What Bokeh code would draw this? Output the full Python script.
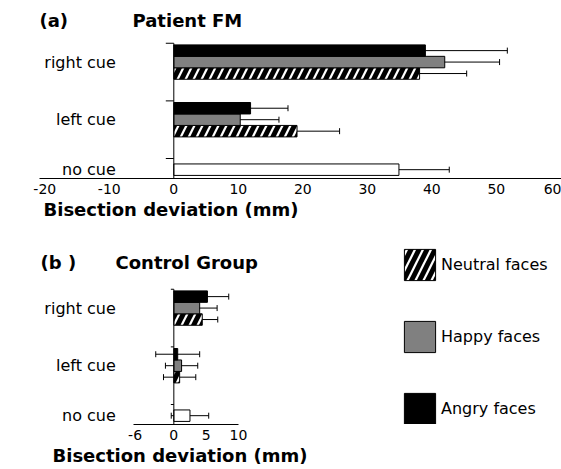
from bokeh.plotting import figure
from bokeh.models import (ColumnDataSource, Whisker, TeeHead, Label, Title,
                          FixedTicker, Range1d, Legend, LegendItem)
from bokeh.layouts import column
from bokeh.embed import file_html
from bokeh.resources import INLINE
from bokeh.core.properties import value

# ---------------- data ----------------
cue_conditions = ["right cue", "left cue"]
baseline_condition = "no cue"
series_names = ["Neutral faces", "Happy faces", "Angry faces"]

# Patient FM (mm), values for [right cue, left cue]
fm_neutral = [38.1, 19.1]
fm_neutral_err = [7.3, 6.6]
fm_happy = [42.0, 10.3]
fm_happy_err = [8.5, 6.0]
fm_angry = [39.0, 11.9]
fm_angry_err = [12.7, 5.8]
fm_nocue = [34.9]
fm_nocue_err = [7.8]

# Control group (mm), values for [right cue, left cue]
ctrl_neutral = [4.4, 0.9]
ctrl_neutral_err = [2.4, 2.5]
ctrl_happy = [4.0, 1.2]
ctrl_happy_err = [2.7, 2.5]
ctrl_angry = [5.2, 0.6]
ctrl_angry_err = [3.3, 3.4]
ctrl_nocue = [2.5]
ctrl_nocue_err = [2.9]

fm_ticks = [-20, -10, 0, 10, 20, 30, 40, 50, 60]
ctrl_ticks = [-6, 0, 5, 10]
x_label = "Bisection deviation (mm)"

# ---------------- layout / style ----------------
FONT = "DejaVu Sans"
W = 561
LEFT = 39
PX_PER_ROW = 58.8
ROW_Y = {"right cue": 1.98, "left cue": 1.0, "no cue": 0.15}
BAR_H = 0.195
SHIFT = {"Neutral faces": -0.195, "Happy faces": 0.0, "Angry faces": 0.195}
BOUNDARIES = [0.34, 1.32, 2.30]
STYLE = {
    "Neutral faces": dict(fill_color="white", hatch_pattern="/", hatch_color="black",
                          hatch_weight=5, hatch_scale=16),
    "Happy faces": dict(fill_color="#808080"),
    "Angry faces": dict(fill_color="black"),
}


def panel(height, bottom, x_range, ticks, tick_align, values, errs, nocue, nocue_err,
          tag, tag_x, title, title_x, title_y, label_offset, tick_len, bounds, legend):
    frame_h = height - bottom
    p = figure(width=W, height=height, x_range=Range1d(*x_range),
               y_range=Range1d(0, frame_h / PX_PER_ROW),
               output_backend="svg", toolbar_location=None, y_axis_location=None,
               min_border_left=LEFT, min_border_right=0, min_border_top=0,
               min_border_bottom=bottom)
    p.xgrid.grid_line_color = None
    p.ygrid.grid_line_color = None
    p.outline_line_color = None
    x_per_px = (x_range[1] - x_range[0]) / (W - LEFT)

    ax = p.xaxis[0]
    ax.ticker = FixedTicker(ticks=ticks)
    ax.major_label_overrides = {t: str(t) for t in ticks}
    ax.major_tick_line_color = None
    ax.minor_tick_line_color = None
    ax.major_tick_out = 0
    ax.major_tick_in = 0
    ax.axis_line_color = "black"
    ax.axis_line_width = 1
    ax.major_label_text_font = FONT
    ax.major_label_text_font_size = "14px"
    ax.major_label_text_color = "black"
    ax.major_label_text_align = tick_align
    ax.major_label_standoff = 5
    if bounds is not None:
        ax.bounds = bounds

    renderers = {}
    for name, vals, es in zip(series_names, values, errs):
        ys = [ROW_Y[c] + SHIFT[name] for c in cue_conditions]
        src = ColumnDataSource(dict(y=ys, right=vals,
                                    lo=[v - e for v, e in zip(vals, es)],
                                    hi=[v + e for v, e in zip(vals, es)]))
        r = p.hbar(y="y", left=0, right="right", height=BAR_H, source=src,
                   line_color="black", line_width=1, **STYLE[name])
        renderers[name] = r
        p.add_layout(Whisker(source=src, base="y", lower="lo", upper="hi", dimension="width",
                             line_color="black", line_width=1,
                             upper_head=TeeHead(size=6, line_color="black", line_width=1),
                             lower_head=TeeHead(size=6, line_color="black", line_width=1)))

    nsrc = ColumnDataSource(dict(y=[ROW_Y[baseline_condition]] * len(nocue), right=nocue,
                                 lo=[v - e for v, e in zip(nocue, nocue_err)],
                                 hi=[v + e for v, e in zip(nocue, nocue_err)]))
    p.hbar(y="y", left=0, right="right", height=BAR_H, source=nsrc,
           fill_color="white", line_color="black", line_width=1)
    p.add_layout(Whisker(source=nsrc, base="y", lower="lo", upper="hi", dimension="width",
                         line_color="black", line_width=1,
                         upper_head=TeeHead(size=6, line_color="black", line_width=1),
                         lower_head=TeeHead(size=6, line_color="black", line_width=1)))

    # category axis drawn at x = 0
    p.segment(x0=[0], y0=[0], x1=[0], y1=[BOUNDARIES[-1]], line_color="black", line_width=1)
    p.segment(x0=[0] * len(BOUNDARIES), y0=BOUNDARIES,
              x1=[-tick_len * x_per_px] * len(BOUNDARIES), y1=BOUNDARIES,
              line_color="black", line_width=1)
    cats = cue_conditions + [baseline_condition]
    p.text(x=[0] * len(cats), y=[ROW_Y[c] for c in cats], text=cats, x_offset=-58,
           text_align="right", text_baseline="middle", text_font=value(FONT),
           text_font_size="16px", text_color="black")

    for txt, xo in ((tag, tag_x), (title, title_x)):
        p.add_layout(Label(x=x_range[0], y=title_y, x_offset=xo, text=txt,
                           text_font=FONT, text_font_size="18px", text_font_style="bold",
                           text_baseline="middle", text_color="black"))

    p.add_layout(Title(text=x_label, align="left", offset=label_offset, standoff=0,
                       text_font=FONT, text_font_size="18px", text_font_style="bold",
                       text_color="black"), "below")

    if legend:
        lg = Legend(items=[LegendItem(label=n, renderers=[renderers[n]]) for n in series_names],
                    location=(361, -4), orientation="vertical",
                    glyph_width=39, glyph_height=39, label_height=39, spacing=33,
                    padding=0, margin=0, border_line_color=None, background_fill_alpha=0,
                    label_text_font=FONT, label_text_font_size="16px",
                    label_text_color="black", label_standoff=2)
        p.add_layout(lg)
    return p


pa = panel(222, 44, (-20.82, 60.1), fm_ticks, "right",
           [fm_neutral, fm_happy, fm_angry], [fm_neutral_err, fm_happy_err, fm_angry_err],
           fm_nocue, fm_nocue_err, "(a)", 0, "Patient FM", 93, 158 / PX_PER_ROW, 4, 8,
           None, False)
pb = panel(247, 45, (-20.79, 60.0), ctrl_ticks, "center",
           [ctrl_neutral, ctrl_happy, ctrl_angry], [ctrl_neutral_err, ctrl_happy_err, ctrl_angry_err],
           ctrl_nocue, ctrl_nocue_err, "(b )", 1, "Control Group", 76, 162 / PX_PER_ROW, 13, 3,
           (-6.3, 10), True)

layout = column(pa, pb, spacing=0)
open("out.html", "w").write(file_html(layout, INLINE))
